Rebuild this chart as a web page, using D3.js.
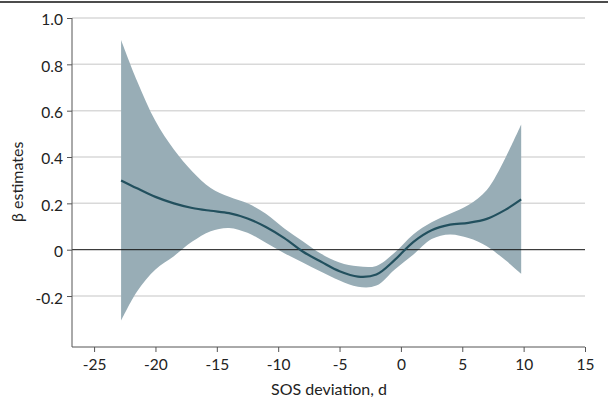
<!DOCTYPE html>
<html><head><meta charset="utf-8">
<script src="https://cdn.jsdelivr.net/npm/d3@7"></script>
<style>
body{margin:0;background:#fff;}
svg text{font-family:Lato, "Noto Sans", sans-serif;}
</style></head>
<body><svg id="c" width="608" height="400"></svg>
<script>
const xs       = [-22.8,-21.5,-20,-18.5,-17,-15.5,-14,-12.5,-11,-9.5,-8,-6.5,-5,-3.5,-2,-0.5,1,2.5,4,5.5,7,8.5,9.8];
const estimate = [0.299,0.265,0.228,0.200,0.180,0.168,0.158,0.135,0.098,0.050,-0.008,-0.052,-0.093,-0.116,-0.107,-0.044,0.033,0.084,0.108,0.116,0.133,0.172,0.217];
const upper    = [0.905,0.728,0.555,0.432,0.338,0.266,0.228,0.200,0.155,0.092,0.036,-0.018,-0.055,-0.072,-0.07,-0.012,0.066,0.118,0.155,0.193,0.258,0.395,0.54];
const lower    = [-0.306,-0.18,-0.085,-0.028,0.035,0.08,0.094,0.073,0.03,-0.015,-0.055,-0.095,-0.133,-0.16,-0.155,-0.085,-0.022,0.046,0.066,0.05,0.015,-0.045,-0.104];
const xTicks = [-25,-20,-15,-10,-5,0,5,10,15];
const yTicks = [-0.2,0,0.2,0.4,0.6,0.8,1.0];
const xLabel = "SOS deviation, d";
const yLabel = "β estimates";

const svg = d3.select("#c");
const x = d3.scaleLinear().domain([-26.8,15]).range([72,585]);
const y = d3.scaleLinear().domain([-0.42,1.0]).range([347,18]);

svg.append("line").attr("x1",0).attr("x2",608).attr("y1",2).attr("y2",2).attr("stroke","#111").attr("stroke-width",1.5);

// grid
svg.append("g").selectAll("line").data(yTicks.filter(d=>d!==0)).join("line")
  .attr("x1",72).attr("x2",585).attr("y1",d=>y(d)).attr("y2",d=>y(d))
  .attr("stroke","#d9d9d9").attr("stroke-width",1.5);

const data = xs.map((v,i)=>({x:v,e:estimate[i],u:upper[i],l:lower[i]}));
const curve = d3.curveCatmullRom.alpha(0.5);
svg.append("path").datum(data)
  .attr("d", d3.area().x(d=>x(d.x)).y0(d=>y(d.l)).y1(d=>y(d.u)).curve(curve))
  .attr("fill","#98adb6");

svg.append("line").attr("x1",72).attr("x2",585).attr("y1",y(0)).attr("y2",y(0)).attr("stroke","#111").attr("stroke-width",1);

svg.append("path").datum(data)
  .attr("d", d3.line().x(d=>x(d.x)).y(d=>y(d.e)).curve(curve))
  .attr("fill","none").attr("stroke","#22505e").attr("stroke-width",2.2);

// axes
const fmt = d => d===0 ? "0" : (d<0 ? "-"+Math.abs(d).toFixed(1) : d.toFixed(1));
const ya = svg.append("g").attr("transform","translate(72,0)")
  .call(d3.axisLeft(y).tickValues(yTicks).tickFormat(fmt).tickSize(5).tickSizeOuter(0));
ya.select(".domain").attr("stroke","#555").attr("d","M0,"+y(1.0)+"V347");
const xa = svg.append("g").attr("transform","translate(0,347)")
  .call(d3.axisBottom(x).tickValues(xTicks).tickFormat(d=>d<0?"-"+Math.abs(d):String(d)).tickSize(5).tickSizeOuter(0));
xa.select(".domain").attr("stroke","#555").attr("d","M72,0H585");
[ya,xa].forEach(a=>{
  a.selectAll(".tick line").attr("stroke","#555");
  a.selectAll(".tick text").attr("fill","#222").attr("font-size",15.5).style("font-family","Lato, sans-serif");
});
ya.selectAll(".tick text").attr("x",-9).attr("dy","0.45em");
xa.selectAll(".tick text").attr("y",23).attr("dy",0);

svg.append("text").attr("x",329).attr("y",395).attr("text-anchor","middle")
  .attr("font-size",16).attr("fill","#222").text(xLabel);
svg.append("text").attr("transform","translate(22.5,222) rotate(-90)").attr("text-anchor","start")
  .attr("font-size",16).attr("fill","#222").text(yLabel);
</script></body></html>
